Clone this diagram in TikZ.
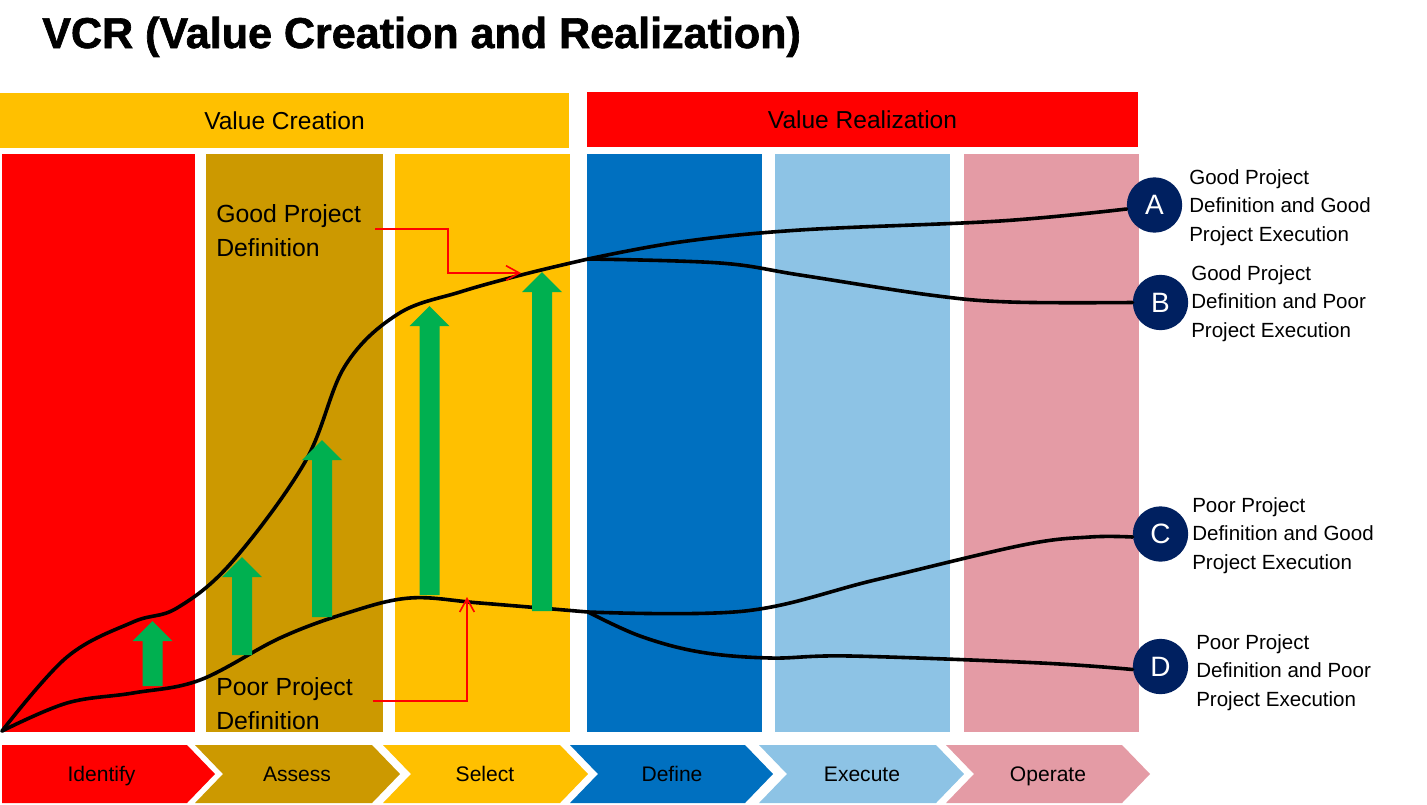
\documentclass[tikz,border=0pt]{standalone}
\usepackage{fontspec}
\setmainfont{Liberation Sans}
\newfontfamily\titlefont[FakeBold=1.5]{Liberation Sans Bold}
\usetikzlibrary{arrows.meta,calc}
\definecolor{cRed}{HTML}{FF0000}
\definecolor{cGold}{HTML}{CC9900}
\definecolor{cYel}{HTML}{FFC000}
\definecolor{cBlue}{HTML}{0070C0}
\definecolor{cLBlue}{HTML}{8DC3E5}
\definecolor{cPink}{HTML}{E49BA5}
\definecolor{cGreen}{HTML}{00B050}
\definecolor{cNavy}{HTML}{002060}
\newcommand\greenarrow[3]{%
  \fill[cGreen] (#1-10,#3) -- (#1-10,#2+20) -- (#1-20,#2+20) -- (#1,#2) -- (#1+20,#2+20) -- (#1+10,#2+20) -- (#1+10,#3) -- cycle;}
\newcommand\chevron[3]{%
  \fill[#3] (#1,745) -- (#2-28,745) -- (#2,774) -- (#2-28,803) -- (#1,803) -- (#1+28,774) -- cycle;}
\begin{document}
\begin{tikzpicture}[x=0.75pt,y=-0.75pt,
  curve/.style={line width=2.7pt, black, line join=round, line cap=round},
  redarr/.style={draw=cRed, line width=1.2pt, -{Straight Barb[length=10pt,width=11pt,line width=1.2pt]}},
  letter/.style={circle, fill=cNavy, minimum size=41.5pt, inner sep=0pt, text=white, font=\fontsize{21}{21}\selectfont},
  outcome/.style={anchor=north west, inner sep=0pt, align=left, font=\fontsize{15.4}{21.4}\selectfont},
  deflabel/.style={anchor=north west, inner sep=0pt, align=left, font=\fontsize{18.6}{26}\selectfont},
  phase/.style={font=\fontsize{15.8}{18}\selectfont, inner sep=0pt, anchor=base},
  header/.style={font=\fontsize{18.4}{22}\selectfont, inner sep=0pt, minimum height=41.25pt}]
\useasboundingbox (0,0) rectangle (1427,804);
\fill[white] (0,0) rectangle (1427,804);

% title
\node[anchor=base west, inner sep=0pt, font=\titlefont\fontsize{32.3}{36}\selectfont] (title) at (42,48) {VCR (Value Creation and Realization)};

% headers
\node[header, fill=cYel, minimum width=426.75pt] (vc) at (284.5,120.5) {Value Creation};
\node[header, fill=cRed, minimum width=413.25pt] (vr) at (862.5,119.5) {Value Realization};

% columns
\fill[cRed]   (2,154)   rectangle (195,732);
\fill[cGold]  (206,154) rectangle (383,732);
\fill[cYel]   (395,154) rectangle (570,732);
\fill[cBlue]  (587,154) rectangle (762,732);
\fill[cLBlue] (775,154) rectangle (950,732);
\fill[cPink]  (964,154) rectangle (1139,732);

% chevrons
\fill[cRed] (2,745) -- (187,745) -- (215,774) -- (187,803) -- (2,803) -- cycle;
\chevron{195}{400}{cGold}
\chevron{383}{588}{cYel}
\chevron{570}{773}{cBlue}
\chevron{759}{964}{cLBlue}
\chevron{946}{1150}{cPink}
\node[phase] (identify) at (101.5,781.5) {Identify};
\node[phase] (assess) at (297,781.5) {Assess};
\node[phase] (select) at (485,781.5) {Select};
\node[phase] (define) at (672,781.5) {Define};
\node[phase] (execute) at (862,781.5) {Execute};
\node[phase] (operate) at (1048,781.5) {Operate};

% outcome circles and labels
\node[letter] (A) at (1154.5,205) {A};
\node[letter] (B) at (1160.5,302.5) {B};
\node[letter] (C) at (1160.5,534) {C};
\node[letter] (D) at (1160.5,666.5) {D};
\node[outcome] (tA) at (1189,169) {Good Project\\Definition and Good\\Project Execution};
\node[outcome] (tB) at (1191,265) {Good Project\\Definition and Poor\\Project Execution};
\node[outcome] (tC) at (1192,497) {Poor Project\\Definition and Good\\Project Execution};
\node[outcome] (tD) at (1196,634) {Poor Project\\Definition and Poor\\Project Execution};

% curves
\coordinate (o) at (2,731);
\coordinate (fk1) at (588,259);
\coordinate (fk2) at (588,612);
\draw[curve] plot[smooth, tension=0.6] coordinates {(o) (67,657) (133,622) (177,608) (232,562) (305,462) (345,366) (398,314) (460,292) (525,274) (fk1)};
\draw[curve] plot[smooth, tension=0.6] coordinates {(fk1) (680,242) (800,230) (1000,221) ($(A.west)+(0,4)$)};
\draw[curve] plot[smooth, tension=0.6] coordinates {(fk1) (720,263) (800,275) (930,295) (1010,302) (B.west)};
\draw[curve] plot[smooth, tension=0.6] coordinates {(o) (67,703) (133,693) (200,680) (280,638) (347,613) (410,598) (480,603) (fk2)};
\draw[curve] plot[smooth, tension=0.6] coordinates {(fk2) (745,611) (875,580) (1023,545) (1090,537) ($(C.west)+(0,3)$)};
\draw[curve] plot[smooth, tension=0.6] coordinates {(fk2) (640,636) (700,652) (770,658) (850,656) (1041,663) ($(D.west)+(0,3)$)};

% green arrows
\greenarrow{152.5}{621}{686}
\greenarrow{242}{557}{655}
\greenarrow{322}{440}{617}
\greenarrow{429.5}{306}{595}
\greenarrow{542}{272}{611}

% definition labels and red arrows
\node[deflabel] (gpd) at (216,204) {Good Project\\Definition};
\node[deflabel] (ppd) at (216,677) {Poor Project\\Definition};
\coordinate (gp) at (521,273);
\coordinate (pp) at (467,597);
\draw[redarr] ($(gpd.east)+(14,-2)$) -| ($(gp)+(-73,0)$) -- (gp);
\draw[redarr] ($(ppd.east)+(20,-3)$) -| (pp);
\end{tikzpicture}
\end{document}
